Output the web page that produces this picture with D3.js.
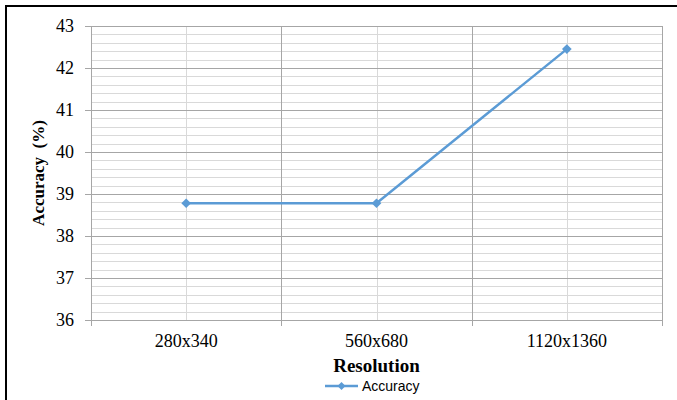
<!DOCTYPE html>
<html>
<head>
<meta charset="utf-8">
<script src="https://cdn.jsdelivr.net/npm/d3@7"></script>
<style>
  body { margin: 0; background: #fff; }
  svg { display: block; }
</style>
</head>
<body>
<div id="chart"></div>
<script>
// Chart data
const categories = ["280x340", "560x680", "1120x1360"];
const accuracy = [38.78, 38.78, 42.45];
const yTicks = [36, 37, 38, 39, 40, 41, 42, 43];
const seriesName = "Accuracy";

// Dimensions of the page and the plot area
const W = 677, H = 400;
const margin = { top: 26, right: 15, bottom: 80, left: 91 };
const width = W - margin.left - margin.right;
const height = H - margin.top - margin.bottom;

const svg = d3.select("#chart")
  .append("svg")
  .attr("width", W)
  .attr("height", H);

// Outer frame (top and left edges visible)
svg.append("path")
  .attr("d", `M6,${H + 5} V6 H${W + 5}`)
  .attr("fill", "none")
  .attr("stroke", "#000")
  .attr("stroke-width", 2);

const g = svg.append("g")
  .attr("transform", `translate(${margin.left},${margin.top})`);

// Scales
const x = d3.scaleBand()
  .domain(categories)
  .range([0, width])
  .padding(0);

const y = d3.scaleLinear()
  .domain([36, 43])
  .range([height, 0]);

// Minor horizontal gridlines (every 0.2)
const minorY = d3.range(36, 43.001, 0.2).filter(v => Math.abs(v - Math.round(v)) > 1e-6);
g.selectAll(".minor-y")
  .data(minorY)
  .enter().append("line")
  .attr("x1", 0).attr("x2", width)
  .attr("y1", d => Math.round(y(d)) + 0.5)
  .attr("y2", d => Math.round(y(d)) + 0.5)
  .attr("stroke", "#d9d9d9");

// Minor vertical gridlines at category centers
g.selectAll(".minor-x")
  .data(categories)
  .enter().append("line")
  .attr("x1", d => Math.round(x(d) + x.bandwidth() / 2) + 0.5)
  .attr("x2", d => Math.round(x(d) + x.bandwidth() / 2) + 0.5)
  .attr("y1", 0).attr("y2", height)
  .attr("stroke", "#d9d9d9");

// Major horizontal gridlines
g.selectAll(".major-y")
  .data(yTicks)
  .enter().append("line")
  .attr("x1", 0).attr("x2", width)
  .attr("y1", d => Math.round(y(d)) + 0.5)
  .attr("y2", d => Math.round(y(d)) + 0.5)
  .attr("stroke", "#a6a6a6");

// Major vertical gridlines at category boundaries
const bounds = categories.map(c => x(c)).concat([width]);
g.selectAll(".major-x")
  .data(bounds)
  .enter().append("line")
  .attr("x1", d => Math.round(d) + 0.5)
  .attr("x2", d => Math.round(d) + 0.5)
  .attr("y1", 0).attr("y2", height + 6)
  .attr("stroke", "#a6a6a6");

// Y axis
const yAxis = g.append("g")
  .call(d3.axisLeft(y).tickValues(yTicks).tickSize(6).tickPadding(11).tickFormat(d3.format("d")));
yAxis.select(".domain").attr("stroke", "#a6a6a6");
yAxis.selectAll(".tick line").attr("stroke", "#a6a6a6");
yAxis.selectAll(".tick text")
  .attr("fill", "#000")
  .style("font-family", "'Liberation Serif', 'Times New Roman', serif")
  .style("font-size", "18px");

// X axis
const xAxis = g.append("g")
  .attr("transform", `translate(0,${height})`)
  .call(d3.axisBottom(x).tickSize(0).tickPadding(14));
xAxis.select(".domain").attr("stroke", "#a6a6a6");
xAxis.selectAll(".tick text")
  .attr("fill", "#000")
  .style("font-family", "'Liberation Serif', 'Times New Roman', serif")
  .style("font-size", "18px");

// Axis titles
svg.append("text")
  .attr("transform", `translate(44,${margin.top + height / 2}) rotate(-90)`)
  .attr("text-anchor", "middle")
  .style("font-family", "'Liberation Serif', 'Times New Roman', serif")
  .style("font-size", "17px")
  .style("font-weight", "bold")
  .style("white-space", "pre")
  .text("Accuracy  (%)");

svg.append("text")
  .attr("x", margin.left + width / 2)
  .attr("y", 372)
  .attr("text-anchor", "middle")
  .style("font-family", "'Liberation Serif', 'Times New Roman', serif")
  .style("font-size", "19px")
  .style("font-weight", "bold")
  .text("Resolution");

// Series line
const color = "#5b9bd5";
const points = categories.map((c, i) => ({ cat: c, value: accuracy[i] }));
const line = d3.line()
  .x(d => x(d.cat) + x.bandwidth() / 2)
  .y(d => y(d.value));

g.append("path")
  .datum(points)
  .attr("d", line)
  .attr("fill", "none")
  .attr("stroke", color)
  .attr("stroke-width", 2.5);

const diamond = d3.symbol().type(d3.symbolDiamond2).size(60);
g.selectAll(".marker")
  .data(points)
  .enter().append("path")
  .attr("transform", d => `translate(${x(d.cat) + x.bandwidth() / 2},${y(d.value)})`)
  .attr("d", diamond)
  .attr("fill", color);

// Legend
const legend = svg.append("g").attr("transform", "translate(325,386)");
legend.append("line")
  .attr("x1", 0).attr("x2", 33)
  .attr("y1", 0).attr("y2", 0)
  .attr("stroke", color)
  .attr("stroke-width", 2.5);
legend.append("path")
  .attr("transform", "translate(16.5,0)")
  .attr("d", d3.symbol().type(d3.symbolDiamond2).size(40))
  .attr("fill", color);
legend.append("text")
  .attr("x", 37)
  .attr("y", 5)
  .style("font-family", "'Liberation Sans', Arial, sans-serif")
  .style("font-size", "14px")
  .attr("fill", "#000")
  .text(seriesName);
</script>
</body>
</html>
